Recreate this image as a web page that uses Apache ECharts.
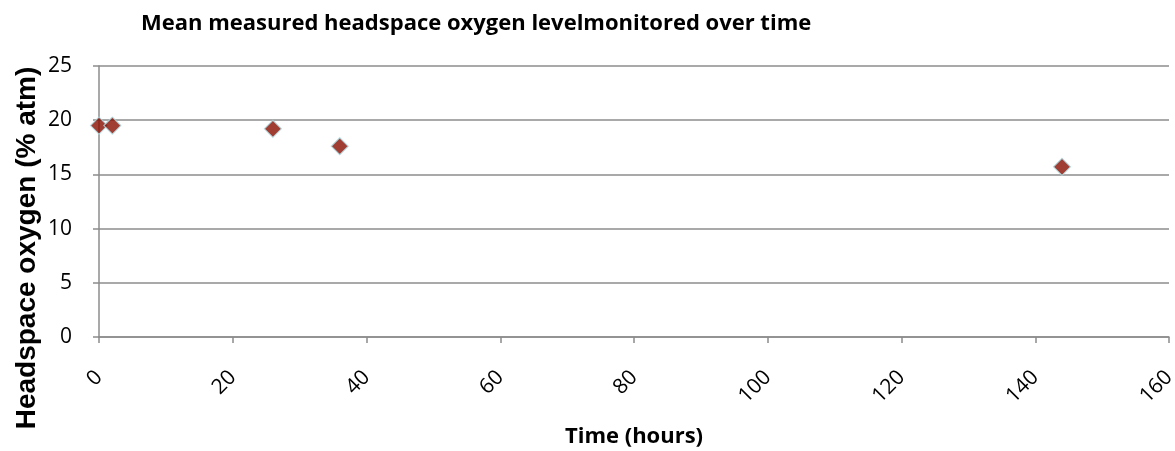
<!DOCTYPE html>
<html>
<head>
<meta charset="utf-8">
<script src="https://cdn.jsdelivr.net/npm/echarts@6/dist/echarts.min.js"></script>
<style>
  html, body { margin: 0; padding: 0; background: #fff; }
  #chart { width: 1175px; height: 451px; }
</style>
</head>
<body>
<div id="chart"></div>
<script>
// Mean headspace oxygen readings
const timeHours = [0, 2, 26, 36, 144];
const oxygenPct = [19.5, 19.5, 19.2, 17.6, 15.7];
const xTicks = [0, 20, 40, 60, 80, 100, 120, 140, 160];
const yTicks = [0, 5, 10, 15, 20, 25];

const chart = echarts.init(document.getElementById('chart'));
const gridColor = '#8c8c8c';
const font = '"Open Sans", "Noto Sans", sans-serif';

chart.setOption({
  animation: false,
  title: {
    text: 'Mean measured headspace oxygen levelmonitored over time',
    left: 136, top: 8,
    textStyle: { fontFamily: font, fontWeight: 'bold', fontSize: 22, color: '#000' }
  },
  grid: { left: 99, right: 6, top: 66, bottom: 114, containLabel: false, outerBoundsMode: 'none' },
  xAxis: {
    type: 'value',
    min: 0, max: 160, interval: 20,
    name: 'Time (hours)',
    nameLocation: 'middle',
    nameGap: 89,
    nameMoveOverlap: false,
    nameTextStyle: { fontFamily: font, fontWeight: 'bold', fontSize: 22, color: '#000' },
    axisLine: { show: true, lineStyle: { color: gridColor, width: 1.5 } },
    axisTick: { show: true, length: 6, lineStyle: { color: gridColor, width: 1.5 } },
    splitLine: { show: false },
    axisLabel: {
      rotate: 45, fontFamily: font, fontSize: 21, color: '#000', margin: 37,
      formatter: v => xTicks.includes(v) ? String(v) : ''
    }
  },
  yAxis: {
    type: 'value',
    min: 0, max: 25, interval: 5,
    name: 'Headspace oxygen (% atm)',
    nameLocation: 'middle',
    nameGap: 58,
    nameMoveOverlap: false,
    nameTextStyle: {
      fontFamily: 'Liberation Sans, Arial, sans-serif', fontWeight: 'bold', fontSize: 28, color: '#000',
      padding: [0, 93, 0, 0]
    },
    axisLine: { show: true, lineStyle: { color: gridColor, width: 1.5 } },
    axisTick: { show: true, length: 6, lineStyle: { color: gridColor, width: 1.5 } },
    splitLine: { show: true, lineStyle: { color: gridColor, width: 1.5 } },
    axisLabel: {
      fontFamily: font, fontSize: 21, color: '#000', margin: 27,
      formatter: v => yTicks.includes(v) ? String(v) : ''
    }
  },
  series: [{
    type: 'scatter',
    data: timeHours.map((t, i) => [t, oxygenPct[i]]),
    symbol: 'diamond',
    symbolSize: 17,
    itemStyle: { color: '#880e00', borderColor: '#b0dde4', borderWidth: 1.2 }
  }]
});
</script>
</body>
</html>
